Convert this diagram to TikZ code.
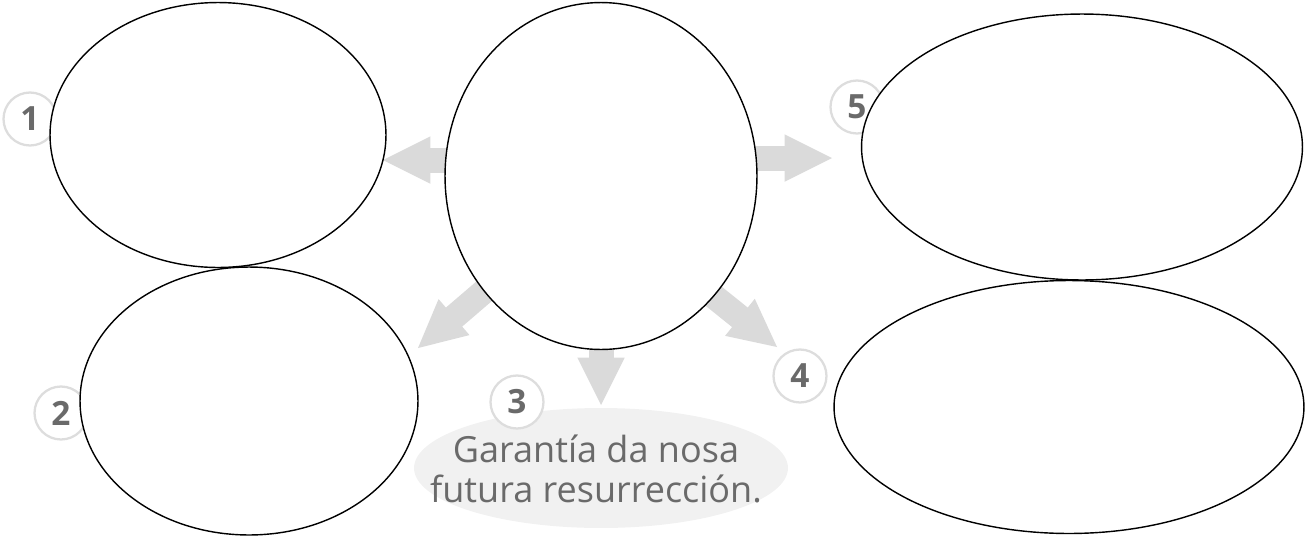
\documentclass[tikz,border=0pt]{standalone}
\usepackage{fontspec}
\setmainfont{Open Sans}
\usetikzlibrary{shapes.geometric, arrows.meta, backgrounds}
\definecolor{arrowgray}{HTML}{DADADA}
\definecolor{numline}{HTML}{DDDDDD}
\definecolor{numtext}{HTML}{6A6A6A}
\definecolor{cloudgray}{HTML}{F1F1F1}

\begin{document}
\begin{tikzpicture}[x=0.02cm, y=-0.02cm, thick,
    blank node/.style={ellipse, draw, fill=white, inner sep=0pt},
    num node/.style={circle, draw=numline, line width=1.3pt, fill=white, minimum size=1.06cm, inner sep=0pt, text=numtext, font=\bfseries\fontsize{19}{19}\selectfont},
    fat arrow/.style={draw=arrowgray, line width=0.5cm, line cap=round, -{Triangle[length=0.95cm, width=0.95cm, line width=0pt]}}]
\useasboundingbox (0,0) rectangle (1313,535);

% number labels and the printed answer
\node[num node] (n1) at (30,119) {1};
\node[num node] (n2) at (61,413) {2};
\node[ellipse, fill=cloudgray, minimum width=7.48cm, minimum height=2.4cm] (cloud) at (601,468) {};
\node[num node] (n3) at (517,402) {3};
\node[num node] (n4) at (800,376) {4};
\node[num node] (n5) at (857,107) {5};
\node[align=center, text=numtext, font=\fontsize{20.5}{23}\selectfont] (answer) at (596,469) {Garantía da nosa\\futura resurrección.};

% blank ovals
\node[blank node, minimum width=6.72cm, minimum height=5.3cm] (ell1) at (218,135) {};
\node[blank node, minimum width=6.76cm, minimum height=5.36cm] (ell2) at (249,401) {};
\node[blank node, minimum width=6.24cm, minimum height=6.94cm] (mid) at (601,176) {};
\node[blank node, minimum width=8.82cm, minimum height=5.32cm] (ell5) at (1082,147) {};
\node[blank node, minimum width=9.4cm, minimum height=5.06cm] (ell4) at (1069,407) {};

% arrow tips
\coordinate (t1) at (383,160);
\coordinate (t2) at (418,348);
\coordinate (t3) at (601,405);
\coordinate (t4) at (777,347);
\coordinate (t5) at (832,158);

\begin{scope}[on background layer]
\draw[fat arrow] (t1 -| mid) -- (t1);
\draw[fat arrow] (t5 -| mid) -- (t5);
\draw[fat arrow] ([yshift=-0.3cm]mid.center) -- (t2);
\draw[fat arrow] (mid) -- (t3);
\draw[fat arrow] ([yshift=-0.6cm]mid.center) -- (t4);
\end{scope}
\end{tikzpicture}
\end{document}
